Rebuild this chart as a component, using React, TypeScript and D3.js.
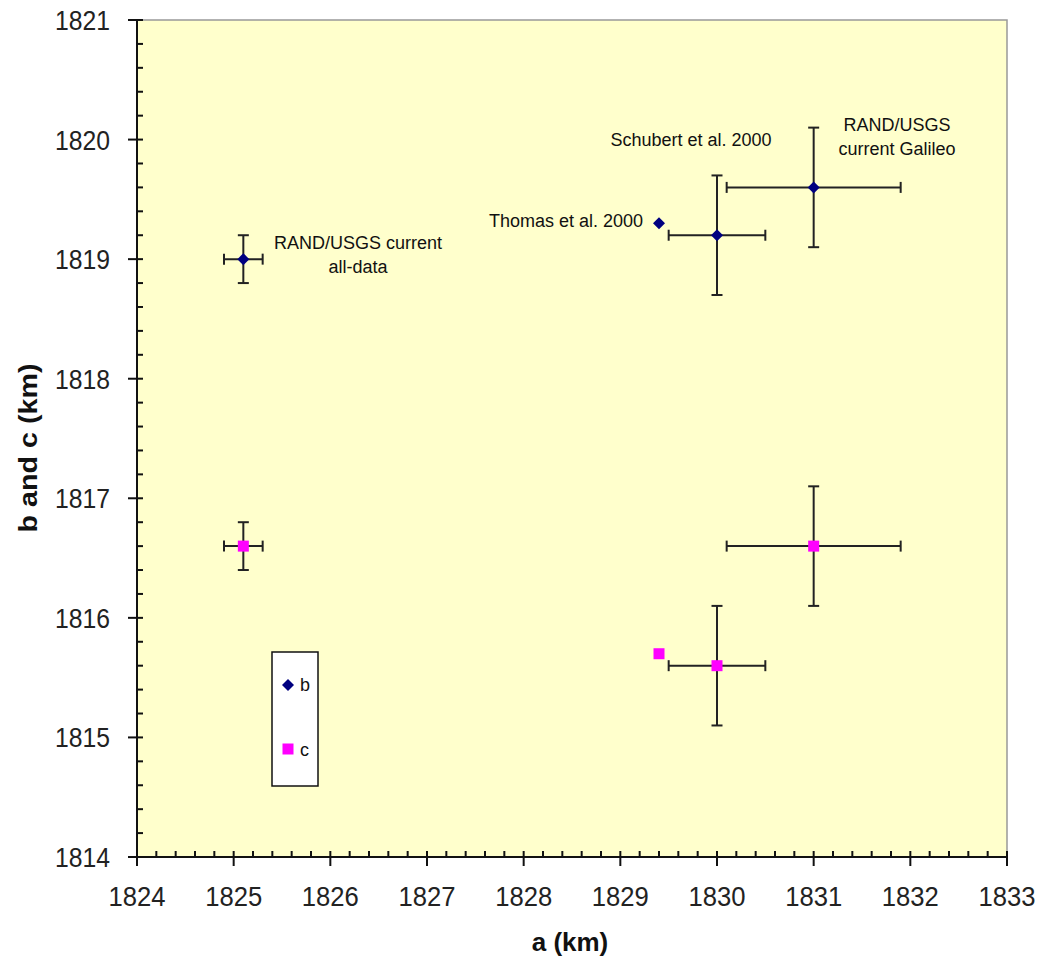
import React from "react";
import * as d3 from "d3";

const xDomain = [1824, 1833];
const yDomain = [1814, 1821];
const xTicks = [1824, 1825, 1826, 1827, 1828, 1829, 1830, 1831, 1832, 1833];
const yTicks = [1814, 1815, 1816, 1817, 1818, 1819, 1820, 1821];

const names = ["RAND/USGS all-data", "Thomas et al. 2000", "Schubert et al. 2000", "RAND/USGS Galileo"];
const aValues = [1825.1, 1829.4, 1830.0, 1831.0];
const aErr = [0.2, 0, 0.5, 0.9];
const bValues = [1819.0, 1819.3, 1819.2, 1819.6];
const bErr = [0.2, 0, 0.5, 0.5];
const cValues = [1816.6, 1815.7, 1815.6, 1816.6];
const cErr = [0.2, 0, 0.5, 0.5];

const W = 1041, H = 960;
const m = { left: 137, right: 1007, top: 20, bottom: 857 };

export default function App() {
  const x = d3.scaleLinear().domain(xDomain).range([m.left, m.right]);
  const y = d3.scaleLinear().domain(yDomain).range([m.bottom, m.top]);
  const font = "Arial, 'Liberation Sans', sans-serif";

  const xMinor: number[] = [];
  for (let i = 0; i < xTicks.length - 1; i++) for (let k = 1; k < 5; k++) xMinor.push(xTicks[i] + k * 0.2);
  const yMinor: number[] = [];
  for (let i = 0; i < yTicks.length - 1; i++) for (let k = 1; k < 5; k++) yMinor.push(yTicks[i] + k * 0.2);

  const cap = 5.5;
  const errBars = (vals: number[], errs: number[], key: string) =>
    aValues.map((a, i) => {
      if (errs[i] === 0 && aErr[i] === 0) return null;
      const cx = x(a), cy = y(vals[i]);
      const x0 = x(a - aErr[i]), x1 = x(a + aErr[i]);
      const y0 = y(vals[i] - errs[i]), y1 = y(vals[i] + errs[i]);
      return (
        <g key={key + i} stroke="#222" strokeWidth={2}>
          <line x1={x0} x2={x1} y1={cy} y2={cy} />
          <line x1={x0} x2={x0} y1={cy - cap} y2={cy + cap} />
          <line x1={x1} x2={x1} y1={cy - cap} y2={cy + cap} />
          <line x1={cx} x2={cx} y1={y0} y2={y1} />
          <line x1={cx - cap} x2={cx + cap} y1={y0} y2={y0} />
          <line x1={cx - cap} x2={cx + cap} y1={y1} y2={y1} />
        </g>
      );
    });

  const diamond = (cx: number, cy: number, k: string) => (
    <path key={k} d={`M${cx},${cy - 6}L${cx + 6},${cy}L${cx},${cy + 6}L${cx - 6},${cy}Z`} fill="#000080" />
  );
  const square = (cx: number, cy: number, k: string) => (
    <rect key={k} x={cx - 5.5} y={cy - 5.5} width={11} height={11} fill="#FF00FF" />
  );

  return (
    <svg width={W} height={H} style={{ display: "block", position: "absolute", left: 0, top: 0 }} fontFamily={font}>
      <rect x={0} y={0} width={W} height={H} fill="#fff" />
      <rect x={m.left} y={m.top} width={m.right - m.left} height={m.bottom - m.top} fill="#FFFFCC" stroke="#999" strokeWidth={1.5} />

      {errBars(bValues, bErr, "be")}
      {errBars(cValues, cErr, "ce")}
      {aValues.map((a, i) => diamond(x(a), y(bValues[i]), "b" + i))}
      {aValues.map((a, i) => square(x(a), y(cValues[i]), "c" + i))}

      {/* axes */}
      <g stroke="#111" strokeWidth={2}>
        <line x1={m.left} x2={m.left} y1={m.top} y2={m.bottom} />
        <line x1={m.left} x2={m.right} y1={m.bottom} y2={m.bottom} />
        {yTicks.map((t) => <line key={"yt" + t} x1={m.left - 9} x2={m.left + 6} y1={y(t)} y2={y(t)} />)}
        {yMinor.map((t, i) => <line key={"ym" + i} x1={m.left} x2={m.left + 6} y1={y(t)} y2={y(t)} />)}
        {xTicks.map((t) => <line key={"xt" + t} x1={x(t)} x2={x(t)} y1={m.bottom - 6} y2={m.bottom + 9} />)}
        {xMinor.map((t, i) => <line key={"xm" + i} x1={x(t)} x2={x(t)} y1={m.bottom} y2={m.bottom - 6} />)}
      </g>
      {yTicks.map((t) => (
        <text key={"yl" + t} x={m.left - 27} y={y(t) + 10} textAnchor="end" fontSize={27} textLength={55} lengthAdjust="spacingAndGlyphs" fill="#222">{t}</text>
      ))}
      {xTicks.map((t) => (
        <text key={"xl" + t} x={x(t)} y={m.bottom + 49} textAnchor="middle" fontSize={27} textLength={57} lengthAdjust="spacingAndGlyphs" fill="#222">{t}</text>
      ))}
      <text x={570} y={951} textAnchor="middle" fontSize={26} fontWeight="bold" fill="#111">a (km)</text>
      <text transform={`translate(37,448) rotate(-90)`} textAnchor="middle" fontSize={26} fontWeight="bold" textLength={169} lengthAdjust="spacingAndGlyphs" fill="#111">b and c (km)</text>

      {/* annotations */}
      <g fontSize={18} fill="#111">
        <text x={358} y={249} textAnchor="middle">RAND/USGS current</text>
        <text x={358} y={273} textAnchor="middle">all-data</text>
        <text x={691} y={146} textAnchor="middle">Schubert et al. 2000</text>
        <text x={643} y={227} textAnchor="end">Thomas et al. 2000</text>
        <text x={897} y={131} textAnchor="middle">RAND/USGS</text>
        <text x={897} y={155} textAnchor="middle">current Galileo</text>
      </g>

      {/* legend */}
      <rect x={272} y={652} width={46} height={134} fill="#fff" stroke="#111" strokeWidth={1.5} />
      {diamond(288, 685, "lb")}
      {square(288, 749, "lc")}
      <text x={300} y={691} fontSize={18} fill="#111">b</text>
      <text x={300} y={756} fontSize={18} fill="#111">c</text>
    </svg>
  );
}
